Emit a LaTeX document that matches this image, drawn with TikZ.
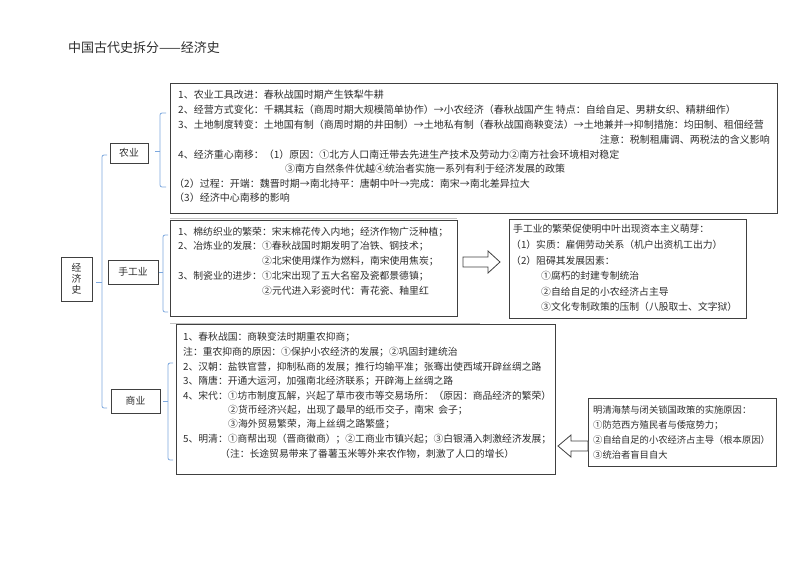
\documentclass[tikz,border=0pt]{standalone}
\usepackage{fontspec}
\newfontfamily\cjk{Noto Sans CJK SC}
\usetikzlibrary{positioning}

\definecolor{framegray}{RGB}{64,64,64}
\definecolor{braceblue}{RGB}{125,168,222}
\definecolor{rulegray}{RGB}{195,195,195}
\definecolor{inkgray}{RGB}{45,45,45}

\begin{document}
\begin{tikzpicture}[x=1pt,y=-1pt,font=\cjk\fontsize{9.8}{11}\selectfont,
  every node/.style={inner sep=0pt,text=inkgray},
  frame/.style={draw=framegray,line width=0.8pt},
  brace/.style={draw=braceblue,line width=0.8pt,rounded corners=2pt},
  line/.style={anchor=west},
  hollow/.style={draw=framegray,line width=0.8pt,fill=white}]
  \useasboundingbox (0,0) rectangle (800,566);

  \node[anchor=west,font=\cjk\fontsize{13}{15}\selectfont] (title) at (68,48) {中国古代史拆分——经济史};

  % left side: root and the three branches
  \node[frame,minimum width=31pt,minimum height=44pt,align=center,
        font=\cjk\fontsize{9.8}{10.8}\selectfont] (root) at (76.5,279) {经\\济\\史};
  \node[frame,minimum width=38pt,minimum height=20pt] (agri) at (129,153) {农业};
  \node[frame,minimum width=50pt,minimum height=24pt] (craft) at (133,272) {手工业};
  \node[frame,minimum width=49pt,minimum height=24pt] (trade) at (135.5,401) {商业};

  \draw[brace] (107,155) -- (102,155) -- (102,408) -- (107,408);
  \draw[brace] (102,282) -- (96,282);
  \draw[brace] (166,113) -- (160,113) -- (160,187) -- (166,187);
  \draw[brace] (160,151) -- (155,151);
  \draw[brace] (168,235) -- (163,235) -- (163,312) -- (168,312);
  \draw[brace] (163,272) -- (159,272);
  \draw[brace] (173,363) -- (168,363) -- (168,460) -- (173,460);
  \draw[brace] (168,401) -- (163,401);

  % content frames
  \node[frame,anchor=north west,minimum width=607pt,minimum height=130pt] (agribox) at (170,83) {};
  \node[frame,anchor=north west,minimum width=287pt,minimum height=96pt] (craftbox) at (170,220) {};
  \node[frame,anchor=north west,minimum width=237pt,minimum height=99pt] (sproutbox) at (509,219) {};
  \node[frame,anchor=north west,minimum width=379pt,minimum height=150pt] (tradebox) at (176,324) {};
  \node[frame,anchor=north west,minimum width=188pt,minimum height=68pt] (banbox) at (588,398) {};
  \draw[rulegray] (170,218) -- (457,218);
  \draw[rulegray] (170,323) -- (480,323);

  % 农业
  \begin{scope}[font=\cjk\fontsize{10}{11}\selectfont]
    \node[line] (a1) at (178,95) {1、农业工具改进：春秋战国时期产生铁犁牛耕};
    \node[line] (a2) at (178,110) {2、经营方式变化：千耦其耘（商周时期大规模简单协作）→小农经济（春秋战国产生 特点：自给自足、男耕女织、精耕细作）};
    \node[line] (a3) at (178,125) {3、土地制度转变：土地国有制（商周时期的井田制）→土地私有制（春秋战国商鞅变法）→土地兼并→抑制措施：均田制、租佃经营};
    \node[anchor=east] (a4) at (770,140) {注意：税制租庸调、两税法的含义影响};
    \node[line] (a5) at (178,155) {4、经济重心南移：（1）原因：①北方人口南迁带去先进生产技术及劳动力②南方社会环境相对稳定};
    \node[line] (a6) at (285,169) {③南方自然条件优越④统治者实施一系列有利于经济发展的政策};
    \node[line] (a7) at (174,184) {（2）过程：开端：魏晋时期→南北持平：唐朝中叶→完成：南宋→南北差异拉大};
    \node[line] (a8) at (174,198) {（3）经济中心南移的影响};
  \end{scope}

  % 手工业
  \node[line] (c1) at (178,232) {1、棉纺织业的繁荣：宋末棉花传入内地；经济作物广泛种植；};
  \node[line] (c2) at (178,246) {2、冶炼业的发展：①春秋战国时期发明了冶铁、钢技术；};
  \node[line] (c3) at (262,261) {②北宋使用煤作为燃料，南宋使用焦炭；};
  \node[line] (c4) at (178,276) {3、制瓷业的进步：①北宋出现了五大名窑及瓷都景德镇；};
  \node[line] (c5) at (262,291) {②元代进入彩瓷时代：青花瓷、釉里红};

  \draw[hollow] (463,257) -- (488,257) -- (488,251) -- (500,262) -- (488,273) -- (488,267) -- (463,267) -- cycle;

  \node[line] (s1) at (513,229) {手工业的繁荣促使明中叶出现资本主义萌芽：};
  \node[line] (s2) at (511,245) {（1）实质：雇佣劳动关系（机户出资机工出力）};
  \node[line] (s3) at (511,261) {（2）阻碍其发展因素：};
  \node[line] (s4) at (541,276) {①腐朽的封建专制统治};
  \node[line] (s5) at (541,292) {②自给自足的小农经济占主导};
  \node[line] (s6) at (541,307) {③文化专制政策的压制（八股取士、文字狱）};

  % 商业
  \node[line] (t1) at (183,337) {1、春秋战国：商鞅变法时期重农抑商；};
  \node[line] (t2) at (183,352) {注：重农抑商的原因：①保护小农经济的发展；②巩固封建统治};
  \node[line] (t3) at (183,367) {2、汉朝：盐铁官营，抑制私商的发展；推行均输平准；张骞出使西域开辟丝绸之路};
  \node[line] (t4) at (183,381) {3、隋唐：开通大运河，加强南北经济联系；开辟海上丝绸之路};
  \node[line] (t5) at (183,396) {4、宋代：①坊市制度瓦解，兴起了草市夜市等交易场所：（原因：商品经济的繁荣）};
  \node[line] (t6) at (228,410) {②货币经济兴起，出现了最早的纸币交子，南宋\ \ 会子；};
  \node[line] (t7) at (228,424) {③海外贸易繁荣，海上丝绸之路繁盛；};
  \node[line] (t8) at (183,439) {5、明清：①商帮出现（晋商徽商）；②工商业市镇兴起；③白银涌入刺激经济发展；};
  \node[line] (t9) at (220,454) {（注：长途贸易带来了番薯玉米等外来农作物，刺激了人口的增长）};

  \draw[hollow] (588,441) -- (571,441) -- (571,435) -- (558,446) -- (571,457) -- (571,451) -- (588,451) -- cycle;

  \begin{scope}[font=\cjk\fontsize{9.3}{11}\selectfont]
    \node[line] (h1) at (593,410) {明清海禁与闭关锁国政策的实施原因：};
    \node[line] (h2) at (593,425) {①防范西方殖民者与倭寇势力；};
    \node[line] (h3) at (593,440) {②自给自足的小农经济占主导（根本原因）};
    \node[line] (h4) at (593,455) {③统治者盲目自大};
  \end{scope}
\end{tikzpicture}
\end{document}
